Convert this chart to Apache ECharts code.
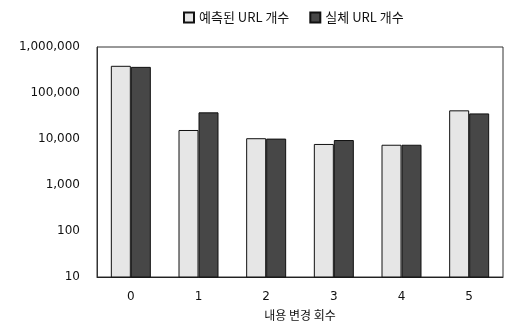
<!DOCTYPE html>
<html>
<head>
<meta charset="utf-8">
<script src="https://cdn.jsdelivr.net/npm/echarts@6/dist/echarts.min.js"></script>
<style>
html,body{margin:0;padding:0;background:#fff;}
#chart{width:512px;height:322px;}
</style>
</head>
<body>
<div id="chart"></div>
<script>
// Number of content changes (x categories)
const categories = ['0', '1', '2', '3', '4', '5'];
// Predicted URL count
const predicted = [390000, 15700, 10400, 7800, 7500, 42000];
// Actual URL count
const actual = [370000, 38000, 10200, 9500, 7500, 36000];
// Log axis tick values
const yTicks = [10, 100, 1000, 10000, 100000, 1000000];

const seriesNames = ['예측된 URL 개수', '실체 URL 개수'];
const FONT = '"Noto Sans CJK KR", "Noto Sans", sans-serif';
const NUM_FONT = '"DejaVu Sans", sans-serif';

const chart = echarts.init(document.getElementById('chart'), null, {renderer: 'canvas'});
chart.setOption({
  animation: false,
  backgroundColor: '#fff',
  textStyle: {fontFamily: FONT},
  legend: {
    top: 6,
    left: 178,
    icon: 'rect',
    itemWidth: 10,
    itemHeight: 10,
    itemGap: 20,
    textStyle: {fontSize: 13, color: '#111', fontFamily: FONT},
    data: seriesNames
  },
  grid: {
    left: 97,
    right: 9,
    top: 47,
    bottom: 45,
    show: true,
    borderColor: '#333',
    borderWidth: 1,
    containLabel: false,
    outerBoundsMode: 'none'
  },
  xAxis: {
    type: 'category',
    data: categories,
    axisLine: {lineStyle: {color: '#222', width: 1}},
    axisTick: {show: false},
    axisLabel: {color: '#111', fontSize: 12, margin: 14, fontFamily: NUM_FONT},
    name: '내용 변경 회수',
    nameLocation: 'middle',
    nameGap: 32,
    nameTextStyle: {color: '#111', fontSize: 12, fontFamily: FONT}
  },
  yAxis: {
    type: 'log',
    logBase: 10,
    min: yTicks[0],
    max: yTicks[yTicks.length - 1],
    splitLine: {show: false},
    axisLine: {show: true, lineStyle: {color: '#333'}},
    axisTick: {show: false},
    axisLabel: {
      color: '#111',
      fontSize: 12,
      margin: 17,
      fontFamily: NUM_FONT,
      formatter: v => Math.round(v).toLocaleString('en-US')
    }
  },
  series: [
    {
      name: seriesNames[0],
      type: 'bar',
      data: predicted,
      barWidth: 20,
      barGap: '0%',
      itemStyle: {color: '#e6e6e6', borderColor: '#111', borderWidth: 1}
    },
    {
      name: seriesNames[1],
      type: 'bar',
      data: actual,
      barWidth: 20,
      itemStyle: {color: '#474747', borderColor: '#111', borderWidth: 1}
    }
  ]
});
</script>
</body>
</html>
